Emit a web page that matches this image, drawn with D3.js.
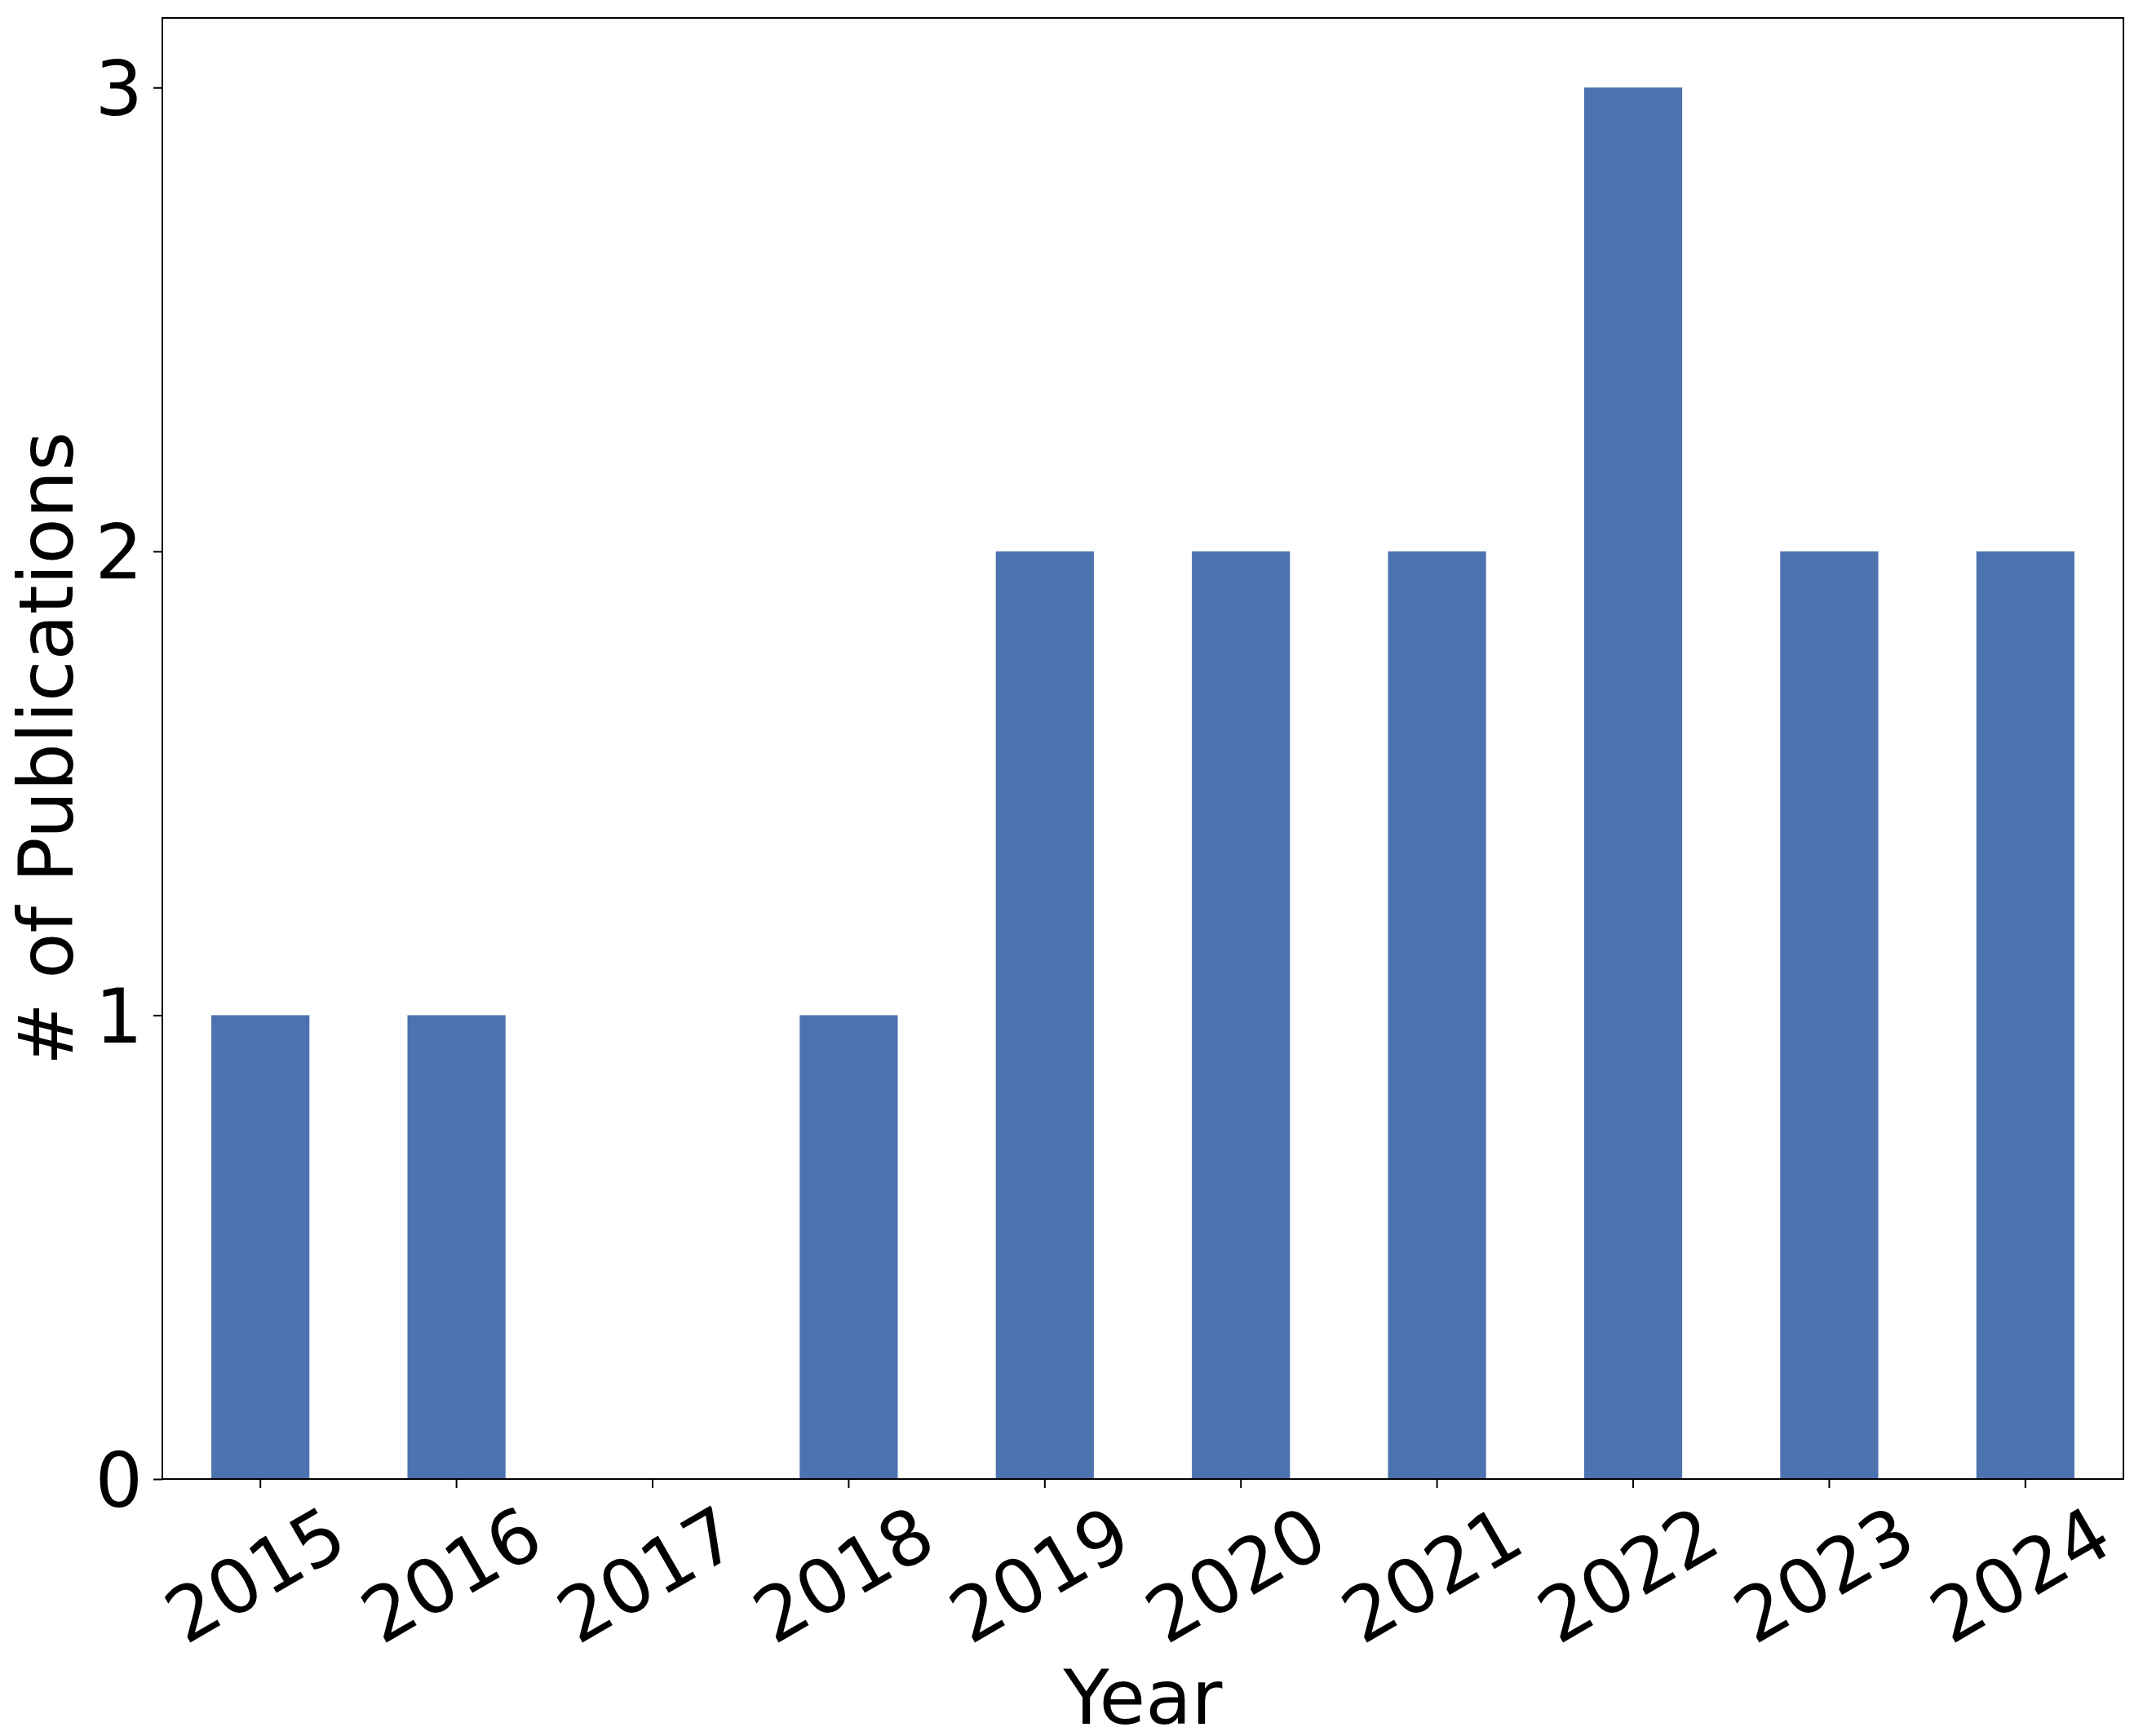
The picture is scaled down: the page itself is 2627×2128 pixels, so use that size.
<!DOCTYPE html>
<html>
<head>
<meta charset="utf-8">
<script src="https://cdn.jsdelivr.net/npm/d3@7"></script>
<style>
  html, body { margin: 0; padding: 0; background: #ffffff; }
  svg { display: block; }
  text { font-family: "DejaVu Sans", sans-serif; fill: #000; }
</style>
</head>
<body>
<svg id="chart" width="2627" height="2128"></svg>
<script>
const years = ["2015", "2016", "2017", "2018", "2019", "2020", "2021", "2022", "2023", "2024"];
const publications = [1, 1, 0, 1, 2, 2, 2, 3, 2, 2];
const yTicks = [0, 1, 2, 3];
const xLabel = "Year";
const yLabel = "# of Publications";

const W = 2627, H = 2128;
const margin = { left: 199, top: 22, right: 24, bottom: 315 };
const plotW = W - margin.left - margin.right;
const plotH = H - margin.top - margin.bottom;
const fontSize = 92;
const barColor = "#4c72b0";

const svg = d3.select("#chart");
svg.append("rect").attr("width", W).attr("height", H).attr("fill", "#fff");

const g = svg.append("g").attr("transform", `translate(${margin.left},${margin.top})`);

const x = d3.scaleBand().domain(years).range([0, plotW]).paddingInner(0.5).paddingOuter(0.25);
const yMax = d3.max(publications) * 1.05;
const y = d3.scaleLinear().domain([0, yMax]).range([plotH, 0]);

const data = years.map((yr, i) => ({ year: yr, value: publications[i] }));

g.selectAll("rect.bar")
  .data(data)
  .join("rect")
  .attr("class", "bar")
  .attr("x", d => x(d.year))
  .attr("width", x.bandwidth())
  .attr("y", d => y(d.value))
  .attr("height", d => plotH - y(d.value))
  .attr("fill", barColor);

// Frame
g.append("rect")
  .attr("x", 0).attr("y", 0)
  .attr("width", plotW).attr("height", plotH)
  .attr("fill", "none")
  .attr("stroke", "#000")
  .attr("stroke-width", 2);

// Y axis
const yAxis = d3.axisLeft(y).tickValues(yTicks).tickFormat(d3.format("d")).tickSize(11).tickPadding(13);
const yg = g.append("g").call(yAxis);
yg.select(".domain").remove();
yg.selectAll(".tick line").attr("stroke", "#000").attr("stroke-width", 2);
yg.selectAll(".tick text")
  .attr("font-size", fontSize)
  .attr("font-family", "DejaVu Sans")
  .attr("dy", "0.36em")
  .attr("fill", "#000");

// X axis
const xAxis = d3.axisBottom(x).tickSize(11).tickFormat(d => d);
const xg = g.append("g").attr("transform", `translate(0,${plotH})`).call(xAxis);
xg.select(".domain").remove();
xg.selectAll(".tick line").attr("stroke", "#000").attr("stroke-width", 2);
xg.selectAll(".tick text").remove();
xg.selectAll(".tick").each(function(d) {
  const t = d3.select(this).append("text")
    .attr("font-size", fontSize)
    .attr("font-family", "DejaVu Sans")
    .attr("text-anchor", "middle")
    .attr("dominant-baseline", "central")
    .text(d);
  const w = t.node().getComputedTextLength();
  const h = fontSize * 1.164;
  const rad = 30 * Math.PI / 180;
  const bboxH = w * Math.sin(rad) + h * Math.cos(rad);
  const top = 11 + 2;
  t.attr("transform", `translate(-6,${top + bboxH / 2}) rotate(-30)`);
});

// Axis labels
svg.append("text")
  .attr("x", margin.left + plotW / 2)
  .attr("y", 2113)
  .attr("text-anchor", "middle")
  .attr("font-size", fontSize)
  .text(xLabel);

svg.append("text")
  .attr("transform", `translate(89,${margin.top + plotH / 2}) rotate(-90)`)
  .attr("text-anchor", "middle")
  .attr("font-size", fontSize)
  .text(yLabel);
</script>
</body>
</html>
